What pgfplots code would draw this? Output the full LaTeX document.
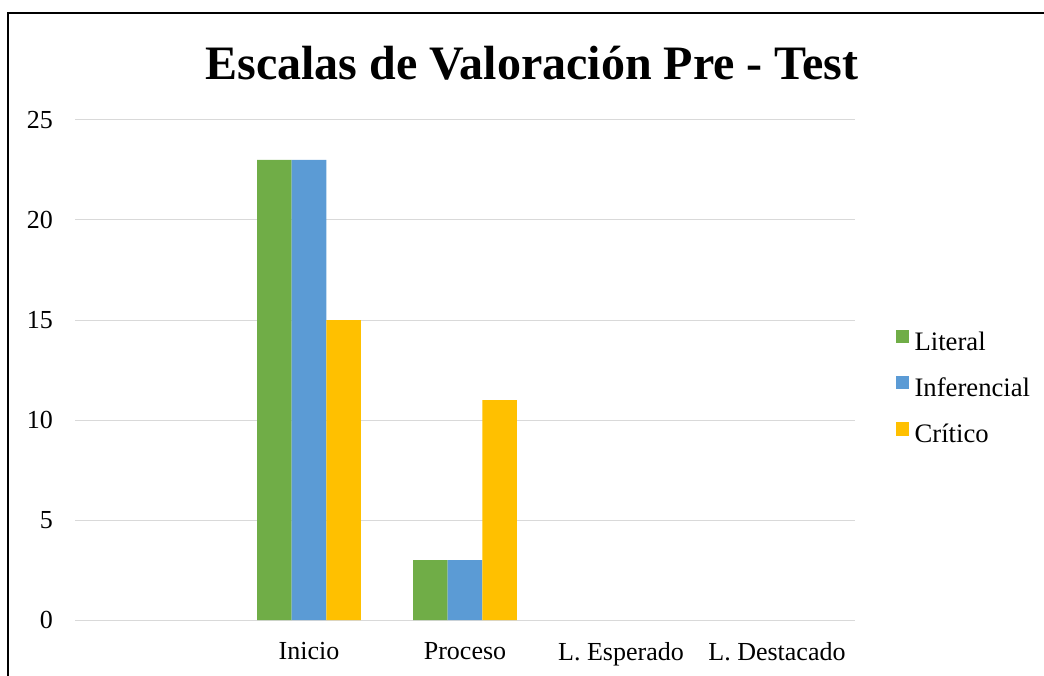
\documentclass[border=0pt]{standalone}
\usepackage{fontspec}
\setmainfont{Liberation Serif}
\usepackage{pgfplots}
\pgfplotsset{compat=1.18}
\definecolor{cLit}{HTML}{70AD47}
\definecolor{cInf}{HTML}{5B9BD5}
\definecolor{cCri}{HTML}{FFC000}
\definecolor{gridgray}{HTML}{D9D9D9}
\begin{document}
\begin{tikzpicture}
\begin{axis}[
  at={(0,0)}, anchor=south west,
  scale only axis, width=585pt, height=375pt,
  ybar=0pt, bar width=25.9pt,
  xmin=-0.5, xmax=4.5, ymin=0, ymax=25,
  xtick={0,1,2,3,4},
  xticklabels={,Inicio,Proceso,L. Esperado,L. Destacado},
  ytick={0,5,10,15,20,25},
  ymajorgrids, grid style={color=gridgray, line width=0.75pt},
  axis line style={draw=none},
  major tick length=0pt,
  tick label style={font=\fontsize{19.5}{23}\selectfont},
  yticklabel style={xshift=-13pt},
  xticklabel style={yshift=-13pt},
  /pgf/number format/assume math mode=true,
  legend cell align=left,
  legend style={draw=none, fill=none, at={(1,0.462)}, anchor=west, xshift=27.5pt,
    font=\fontsize{20}{24}\selectfont, row sep=15.5pt,
    nodes={inner sep=0pt, text height=13.5pt, text depth=4pt},
    /tikz/every odd column/.append style={column sep=4pt}},
  legend image code/.code={\fill[#1,draw=none] (0pt,0.75pt) rectangle (10pt,10.5pt);},
]
\addplot[fill=cLit, draw=none] coordinates {(1,23) (2,3)};
\addplot[fill=cInf, draw=none] coordinates {(1,23) (2,3)};
\addplot[fill=cCri, draw=none] coordinates {(1,15) (2,11)};
\legend{Literal,Inferencial,Crítico}
\end{axis}
\node[anchor=base, font=\fontsize{36}{42}\selectfont\bfseries] at (342.75pt,405pt) {Escalas de Valoración Pre - Test};
\draw[line width=1.5pt] (-50.25pt,-45pt) -- (-50.25pt,455.6pt) -- (730pt,455.6pt);
\pgfresetboundingbox
\path[use as bounding box] (-56.25pt,-41.25pt) rectangle (726.75pt,465pt);
\end{tikzpicture}
\end{document}
